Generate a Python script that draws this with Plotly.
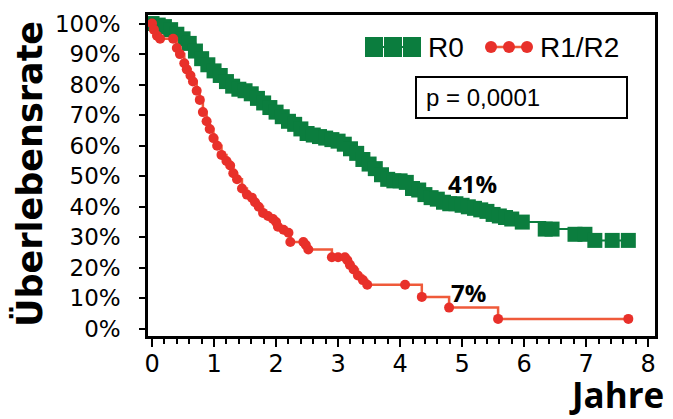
import plotly.graph_objects as go

# ---- data ----
r0_years = [0, 0.1, 0.2, 0.3, 0.4, 0.5, 0.6, 0.7, 0.8, 0.9, 1.0, 1.1, 1.2, 1.3, 1.4, 1.5,
            1.6, 1.7, 1.8, 1.9, 2.0, 2.1, 2.2, 2.3, 2.4, 2.5, 2.6, 2.7, 2.8, 2.9, 3.0, 3.1,
            3.2, 3.3, 3.4, 3.5, 3.6, 3.7, 3.8, 3.9, 4.0, 4.1, 4.2, 4.3, 4.4, 4.5, 4.6, 4.7,
            4.8, 4.9, 5.0, 5.1, 5.2, 5.3, 5.4, 5.5, 5.6, 5.7, 5.8, 5.97, 6.34, 6.45, 6.82,
            6.98, 7.14, 7.42, 7.68]
r0_surv = [100, 99.5, 99, 98, 96.5, 95, 93.5, 91, 88.5, 86.5, 84.5, 83, 81, 79.5, 78.5, 78,
           77, 75.5, 74, 72.5, 71, 69.5, 68, 67, 65.5, 64, 63.5, 63, 62.5, 62, 61.5, 60.5,
           59, 57.5, 55.5, 54, 52.5, 50.5, 49, 48.5, 48.5, 48, 46, 45.5, 44, 43, 42.5, 41.5,
           41, 41, 40.5, 40, 39.5, 39, 38.5, 37.5, 37, 36.5, 36, 35, 32.7, 32.7, 31,
           31, 29, 29, 29]

r12_years = [0, 0.03, 0.08, 0.13, 0.34, 0.40, 0.45, 0.52, 0.56, 0.62, 0.66, 0.72, 0.77, 0.82,
             0.88, 0.93, 0.99, 1.05, 1.12, 1.2, 1.26, 1.31, 1.37, 1.45, 1.53, 1.61, 1.66,
             1.72, 1.79, 1.87, 1.95, 2.0, 2.03, 2.12, 2.2, 2.23, 2.44, 2.48, 2.52, 2.9, 3.0,
             3.11, 3.15, 3.19, 3.25, 3.32, 3.40, 3.47, 4.08, 4.35, 4.79, 5.58, 7.68]
r12_surv = [100, 98, 96, 95, 95, 92, 90, 87, 85, 83, 81, 78, 75, 71,
            68, 65.5, 62.5, 60, 57, 55, 53.5, 51, 49, 46, 44, 43, 41.5,
            40, 38, 37, 36, 35, 33.5, 32.5, 31.5, 28.5, 28.5, 27.5, 26, 23.5, 23.5,
            23.5, 22.5, 21, 19.5, 17.5, 16, 14.5, 14.5, 10.5, 7, 3.3, 3.3]

x_ticks = [0, 1, 2, 3, 4, 5, 6, 7, 8]
y_ticks = [0, 10, 20, 30, 40, 50, 60, 70, 80, 90, 100]
y_ticklabels = [f"{v}%" for v in y_ticks]

labels = [("41%", 5.16, 47.5), ("7%", 5.1, 12.1)]
p_text = "p = 0,0001"

GREEN = "#0B7D3E"
RED_M = "#E8302A"
RED_L = "#EF5A3A"

# ---- layout geometry (pixels) ----
W, H = 673, 419
L, R, T, B = 148, 18, 15, 83
PW, PH = W - L - R, H - T - B


def px(x):
    return (x - L) / PW


def py(y):
    return (H - B - y) / PH


fig = go.Figure()
fig.add_trace(go.Scatter(
    x=r0_years, y=r0_surv, mode="lines+markers", line_shape="hv",
    line=dict(color=GREEN, width=2),
    marker=dict(symbol="square", size=15, color=GREEN, line=dict(width=0)),
    showlegend=False))
fig.add_trace(go.Scatter(
    x=r12_years, y=r12_surv, mode="lines+markers", line_shape="hv",
    line=dict(color=RED_L, width=2.5),
    marker=dict(symbol="circle", size=10, color=RED_M, line=dict(width=0)),
    showlegend=False))

annotations = []
for txt, xv, yv in labels:
    annotations.append(dict(x=xv, y=yv, xref="x", yref="y", text=f"<b>{txt}</b>",
                            showarrow=False, font=dict(family="Open Sans", size=24, color="black")))

# axis titles
annotations.append(dict(x=px(29), y=py(174), xref="paper", yref="paper", text="<b>Überlebensrate</b>",
                        textangle=-90, showarrow=False, xanchor="center", yanchor="middle",
                        font=dict(family="DejaVu Sans", size=35, color="black")))
annotations.append(dict(x=px(666), y=py(420), xref="paper", yref="paper", text="<b>Jahre</b>",
                        showarrow=False, xanchor="right", yanchor="bottom",
                        font=dict(family="Open Sans", size=35, color="black")))

# legend texts
annotations.append(dict(x=px(426), y=py(47), xref="paper", yref="paper", text="R0",
                        showarrow=False, xanchor="left", yanchor="middle",
                        font=dict(family="Liberation Sans", size=28, color="black")))
annotations.append(dict(x=px(538), y=py(47), xref="paper", yref="paper", text="R1/R2",
                        showarrow=False, xanchor="left", yanchor="middle",
                        font=dict(family="Liberation Sans", size=28, color="black")))
annotations.append(dict(x=px(424), y=py(97), xref="paper", yref="paper", text=p_text,
                        showarrow=False, xanchor="left", yanchor="middle",
                        font=dict(family="Liberation Sans", size=24, color="black")))

shapes = []
# legend glyph: green squares
shapes.append(dict(type="line", xref="paper", yref="paper", x0=px(365), x1=px(421), y0=py(47), y1=py(47),
                   line=dict(color=GREEN, width=2)))
for cx in (374, 393, 412):
    shapes.append(dict(type="rect", xref="paper", yref="paper", x0=px(cx - 9), x1=px(cx + 9),
                       y0=py(57), y1=py(37), fillcolor=GREEN, line=dict(width=0)))
# legend glyph: red dots
shapes.append(dict(type="line", xref="paper", yref="paper", x0=px(486), x1=px(532), y0=py(47), y1=py(47),
                   line=dict(color=RED_L, width=2.5)))
for cx in (491, 509, 527):
    shapes.append(dict(type="circle", xref="paper", yref="paper", x0=px(cx - 6), x1=px(cx + 6),
                       y0=py(53), y1=py(41), fillcolor=RED_M, line=dict(width=0)))
# p-value box
shapes.append(dict(type="rect", xref="paper", yref="paper", x0=px(416), x1=px(627), y0=py(118), y1=py(77),
                   line=dict(color="black", width=2), fillcolor="rgba(0,0,0,0)"))

fig.update_layout(
    width=W, height=H,
    margin=dict(l=L, r=R, t=T, b=B),
    paper_bgcolor="white", plot_bgcolor="white",
    annotations=annotations, shapes=shapes,
    showlegend=False,
)
fig.update_xaxes(
    range=[-0.065, 8.11], tickvals=x_ticks, ticktext=[str(v) for v in x_ticks],
    showgrid=False, zeroline=False, showline=True, mirror=True, linecolor="black", linewidth=2.5,
    ticks="outside", ticklen=8, tickwidth=2, tickcolor="black",
    minor=dict(dtick=0.2, ticks="outside", ticklen=5, tickwidth=2, tickcolor="black"),
    tickfont=dict(family="DejaVu Sans", size=24, color="black"),
    ticklabelstandoff=-4, automargin=False,
)
fig.update_yaxes(
    range=[-2.3, 102.8], tickvals=y_ticks, ticktext=y_ticklabels,
    showgrid=False, zeroline=False, showline=True, mirror=True, linecolor="black", linewidth=2.5,
    ticks="outside", ticklen=6, tickwidth=2, tickcolor="black",
    tickfont=dict(family="DejaVu Sans", size=23, color="black"),
    ticklabelstandoff=14, automargin=False,
)

fig.write_html("out.html", config={"displayModeBar": False},
               post_script="document.body.style.margin='0';document.body.style.overflow='hidden';")
